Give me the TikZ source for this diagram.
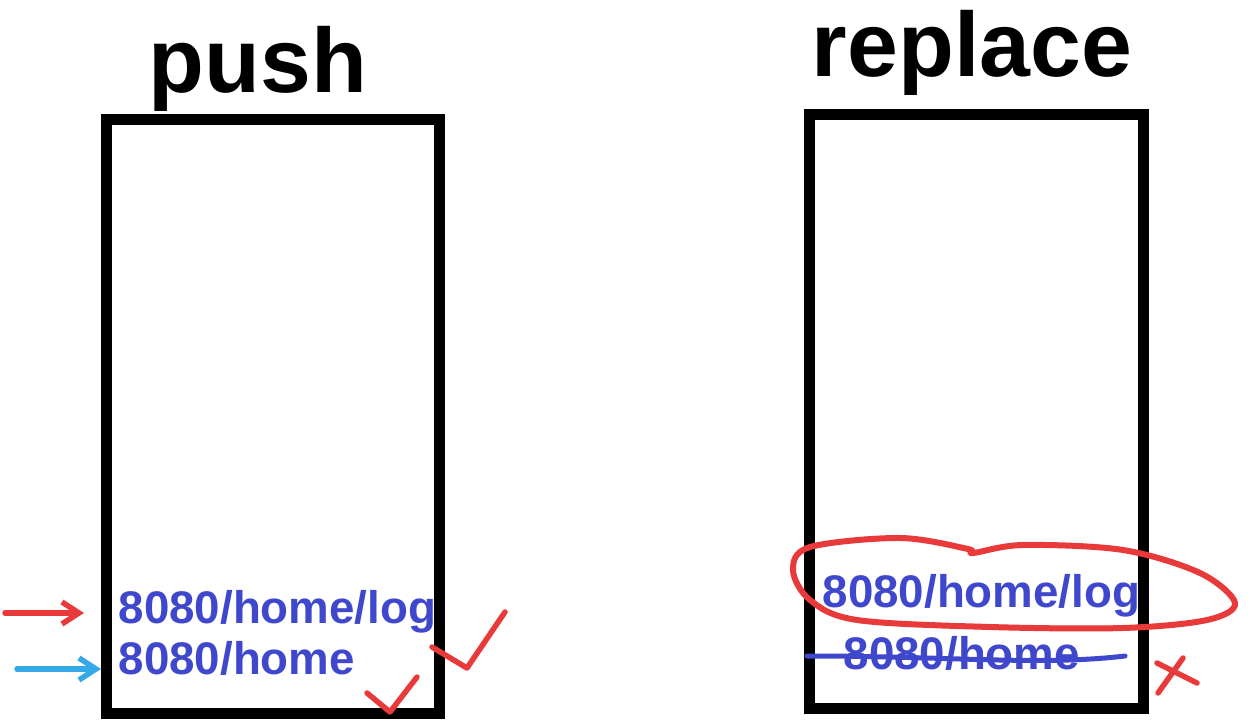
\documentclass[tikz,border=0pt]{standalone}
\usepackage{fontspec}
\setmainfont{Liberation Sans}
\usetikzlibrary{arrows.meta}

\definecolor{penred}{RGB}{232,57,59}
\definecolor{penblue}{RGB}{53,168,232}
\definecolor{urlblue}{RGB}{63,72,204}

\tikzset{
  stack/.style={line width=1.1mm},
  title/.style={font=\fontsize{26}{30}\selectfont\bfseries, inner sep=0pt, anchor=base},
  url/.style={font=\fontsize{13}{15}\selectfont\bfseries, text=urlblue, inner sep=0pt, anchor=base west},
  redpen/.style={draw=penred, line width=0.55mm, line cap=round, line join=round},
  bluepen/.style={draw=penblue, line width=0.55mm, line cap=round, line join=round},
  >={Straight Barb[length=1.7mm,width=2.2mm]}
}

\begin{document}
\begin{tikzpicture}[x=0.1mm,y=-0.1mm]
  \useasboundingbox (0,0) rectangle (1250,725);
  % push
  \node[title] (pushtitle) at (258,93) {push};
  \draw[stack] (106,120) rectangle (439,713);
  \node[url] (pushlog) at (118,623) {8080/home/log};
  \node[url] (pushhome) at (118,674) {8080/home};
  \coordinate (redtail) at (5,613);
  \coordinate (bluetail) at (17,669);
  \draw[redpen,->] (redtail) -- (redtail -| pushlog.west) [shorten >=3.4mm];
  \draw[bluepen,->] (bluetail) -- (bluetail -| pushhome.west) [shorten >=1.7mm];
  \draw[redpen] (432,647) -- (467,668) -- (505,612);
  \draw[redpen] (367,693) -- (390,712) -- (417,677);
  % replace
  \node[title] (repltitle) at (972,77) {replace};
  \draw[stack] (809,115) rectangle (1143,708);
  \node[url] (repllog) at (822,607) {8080/home/log};
  \node[url] (replhome) at (843,669) {8080/home};
  \draw[redpen,line width=0.6mm] plot[smooth cycle,tension=0.55] coordinates
    {(793,570) (810,547) (900,538) (968,549) (973,553) (1023,545) (1123,550) (1200,573)
     (1235,603) (1207,620) (1123,628) (990,627) (857,620) (810,600)};
  \draw[draw=urlblue,line width=0.5mm,line cap=round]
    (807,656) .. controls (950,656) and (1040,666) .. (1125,656);
  \draw[redpen] (1157,663) -- (1197,683);
  \draw[redpen] (1183,658) -- (1158,693);
\end{tikzpicture}
\end{document}
